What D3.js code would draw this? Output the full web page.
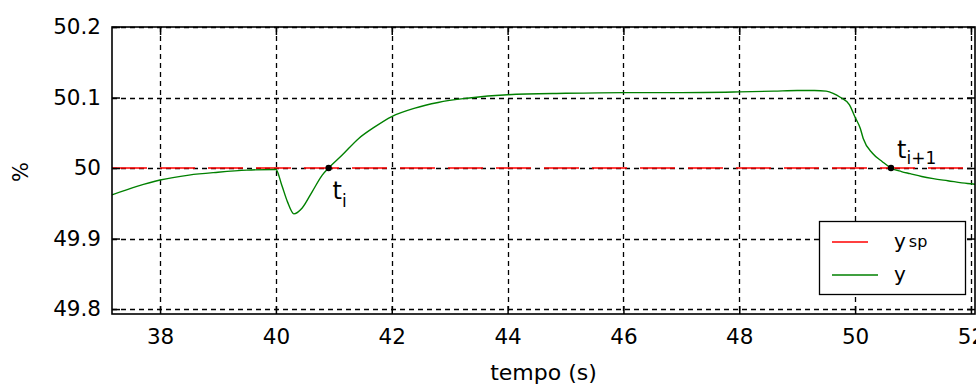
<!DOCTYPE html>
<html><head><meta charset="utf-8">
<script src="https://cdn.jsdelivr.net/npm/d3@7"></script>
<style>body{margin:0;background:#fff;} svg{display:block;} text{font-family:"DejaVu Sans",sans-serif;fill:#000;}</style>
</head><body>
<svg id="c" width="976" height="387"></svg>
<script>
const time = [37.17, 37.6, 38, 38.5, 39, 39.5, 40, 40.1, 40.2, 40.31, 40.45, 40.63, 40.8, 40.91, 41.14, 41.43, 41.7, 42, 42.4, 42.8, 43.3, 44, 45, 46, 47, 48, 48.6, 49, 49.3, 49.5, 49.62, 49.75, 49.9, 50.0, 50.09, 50.14, 50.3, 50.47, 50.62, 50.8, 50.95, 51.15, 51.35, 51.6, 51.94, 52.07];
const yValues = [49.962, 49.974, 49.983, 49.990, 49.994, 49.997, 49.998, 49.976, 49.952, 49.935, 49.943, 49.967, 49.990, 50.000, 50.018, 50.042, 50.058, 50.073, 50.085, 50.093, 50.099, 50.104, 50.106, 50.107, 50.107, 50.108, 50.109, 50.110, 50.110, 50.109, 50.106, 50.100, 50.090, 50.072, 50.056, 50.042, 50.021, 50.009, 50.000, 49.995, 49.992, 49.988, 49.985, 49.982, 49.978, 49.977];
const setpoint = 50;
const xTicks = [38, 40, 42, 44, 46, 48, 50, 52];
const yTicks = [49.8, 49.9, 50, 50.1, 50.2];
const crossings = [{t: 40.91, label: "i"}, {t: 50.62, label: "i+1"}];
const legendItems = [{name: "y", sub: "sp", color: "#ff0000"}, {name: "y", sub: "", color: "#008000"}];

const svg = d3.select("#c");
const L = 112, R = 975, T = 27, B = 314;
const x = d3.scaleLinear().domain([37.17, 52.07]).range([L, R]);
const y = d3.scaleLinear().domain([49.793, 50.2]).range([B, T]);

// grid
const g = svg.append("g");
g.selectAll(".vg").data(xTicks).join("line")
  .attr("x1", d => Math.round(x(d)) + 0.5).attr("x2", d => Math.round(x(d)) + 0.5)
  .attr("y1", T).attr("y2", B).attr("stroke", "#000").attr("stroke-width", 1.3).attr("stroke-dasharray", "5,4");
g.selectAll(".hg").data(yTicks).join("line")
  .attr("y1", d => Math.round(y(d)) + 0.5).attr("y2", d => Math.round(y(d)) + 0.5)
  .attr("x1", L).attr("x2", R).attr("stroke", "#000").attr("stroke-width", 1.3).attr("stroke-dasharray", "5,4");

// setpoint line
svg.append("line").attr("x1", L).attr("x2", R).attr("y1", y(setpoint)).attr("y2", y(setpoint))
  .attr("stroke", "#ff0000").attr("stroke-width", 1.5).attr("stroke-dasharray", "35,13");

// y curve
const data = time.map((t, i) => [t, yValues[i]]);
svg.append("path").datum(data)
  .attr("d", d3.line().x(d => x(d[0])).y(d => y(d[1])).curve(d3.curveMonotoneX))
  .attr("fill", "none").attr("stroke", "#008000").attr("stroke-width", 1.4);

// axes box and ticks
const ax = svg.append("g");
const bottomAxis = d3.axisBottom(x).tickValues(xTicks).tickSize(-8).tickPadding(15).tickFormat(d3.format("d"));
const leftAxis = d3.axisLeft(y).tickValues(yTicks).tickSize(-8).tickPadding(11).tickFormat(d => d === 50 ? "50" : d3.format(".1f")(d));
ax.append("g").attr("transform", `translate(0,${B})`).call(bottomAxis);
ax.append("g").attr("transform", `translate(${L},0)`).call(leftAxis);
ax.append("g").attr("transform", `translate(0,${T})`).call(d3.axisTop(x).tickValues(xTicks).tickSize(-8).tickFormat(""));
ax.append("g").attr("transform", `translate(${R},0)`).call(d3.axisRight(y).tickValues(yTicks).tickSize(-8).tickFormat(""));
ax.selectAll(".tick line").attr("stroke", "#000").attr("stroke-width", 1.5);
ax.selectAll("text").style("font-family", "DejaVu Sans").style("font-size", "21.5px").attr("fill", "#111");
ax.selectAll("path.domain").remove();
svg.append("rect").attr("x", L).attr("y", T).attr("width", R - L).attr("height", B - T)
  .attr("fill", "none").attr("stroke", "#000").attr("stroke-width", 1.6);

// crossing dots and labels
crossings.forEach(c => {
  svg.append("circle").attr("cx", x(c.t)).attr("cy", y(setpoint)).attr("r", 3.2).attr("fill", "#000");
});
const l1 = svg.append("text").attr("x", x(crossings[0].t) + 4).attr("y", y(setpoint) + 31).style("font-size", "24px");
l1.append("tspan").text("t");
l1.append("tspan").attr("dy", 8).style("font-size", "17px").text(crossings[0].label);
const l2 = svg.append("text").attr("x", x(crossings[1].t) + 6).attr("y", y(setpoint) - 10).style("font-size", "24px");
l2.append("tspan").text("t");
l2.append("tspan").attr("dy", 6).style("font-size", "17px").text(crossings[1].label);

// axis labels
svg.append("text").attr("x", (L + R) / 2).attr("y", 380).attr("text-anchor", "middle").style("font-size", "22px").attr("fill", "#111").text("tempo (s)");
svg.append("text").attr("transform", "translate(28,172) rotate(-90)").attr("text-anchor", "middle").style("font-size", "21px").attr("fill", "#111").text("%");

// legend
const lg = svg.append("g");
lg.append("rect").attr("x", 819.5).attr("y", 221.5).attr("width", 146).attr("height", 73).attr("fill", "#fff").attr("stroke", "#000").attr("stroke-width", 1.3);
const lineEnds = [868, 878];
legendItems.forEach((it, i) => {
  const yy = 242 + i * 33;
  lg.append("line").attr("x1", 832).attr("x2", lineEnds[i]).attr("y1", yy).attr("y2", yy).attr("stroke", it.color).attr("stroke-width", 1.5);
  const t = lg.append("text").attr("x", 894).attr("y", yy + 6).style("font-size", "20px").attr("fill", "#111");
  t.append("tspan").text(it.name);
  if (it.sub) t.append("tspan").attr("dx", 3).attr("dy", -1).style("font-size", "16px").text(it.sub);
});
</script>
</body></html>
